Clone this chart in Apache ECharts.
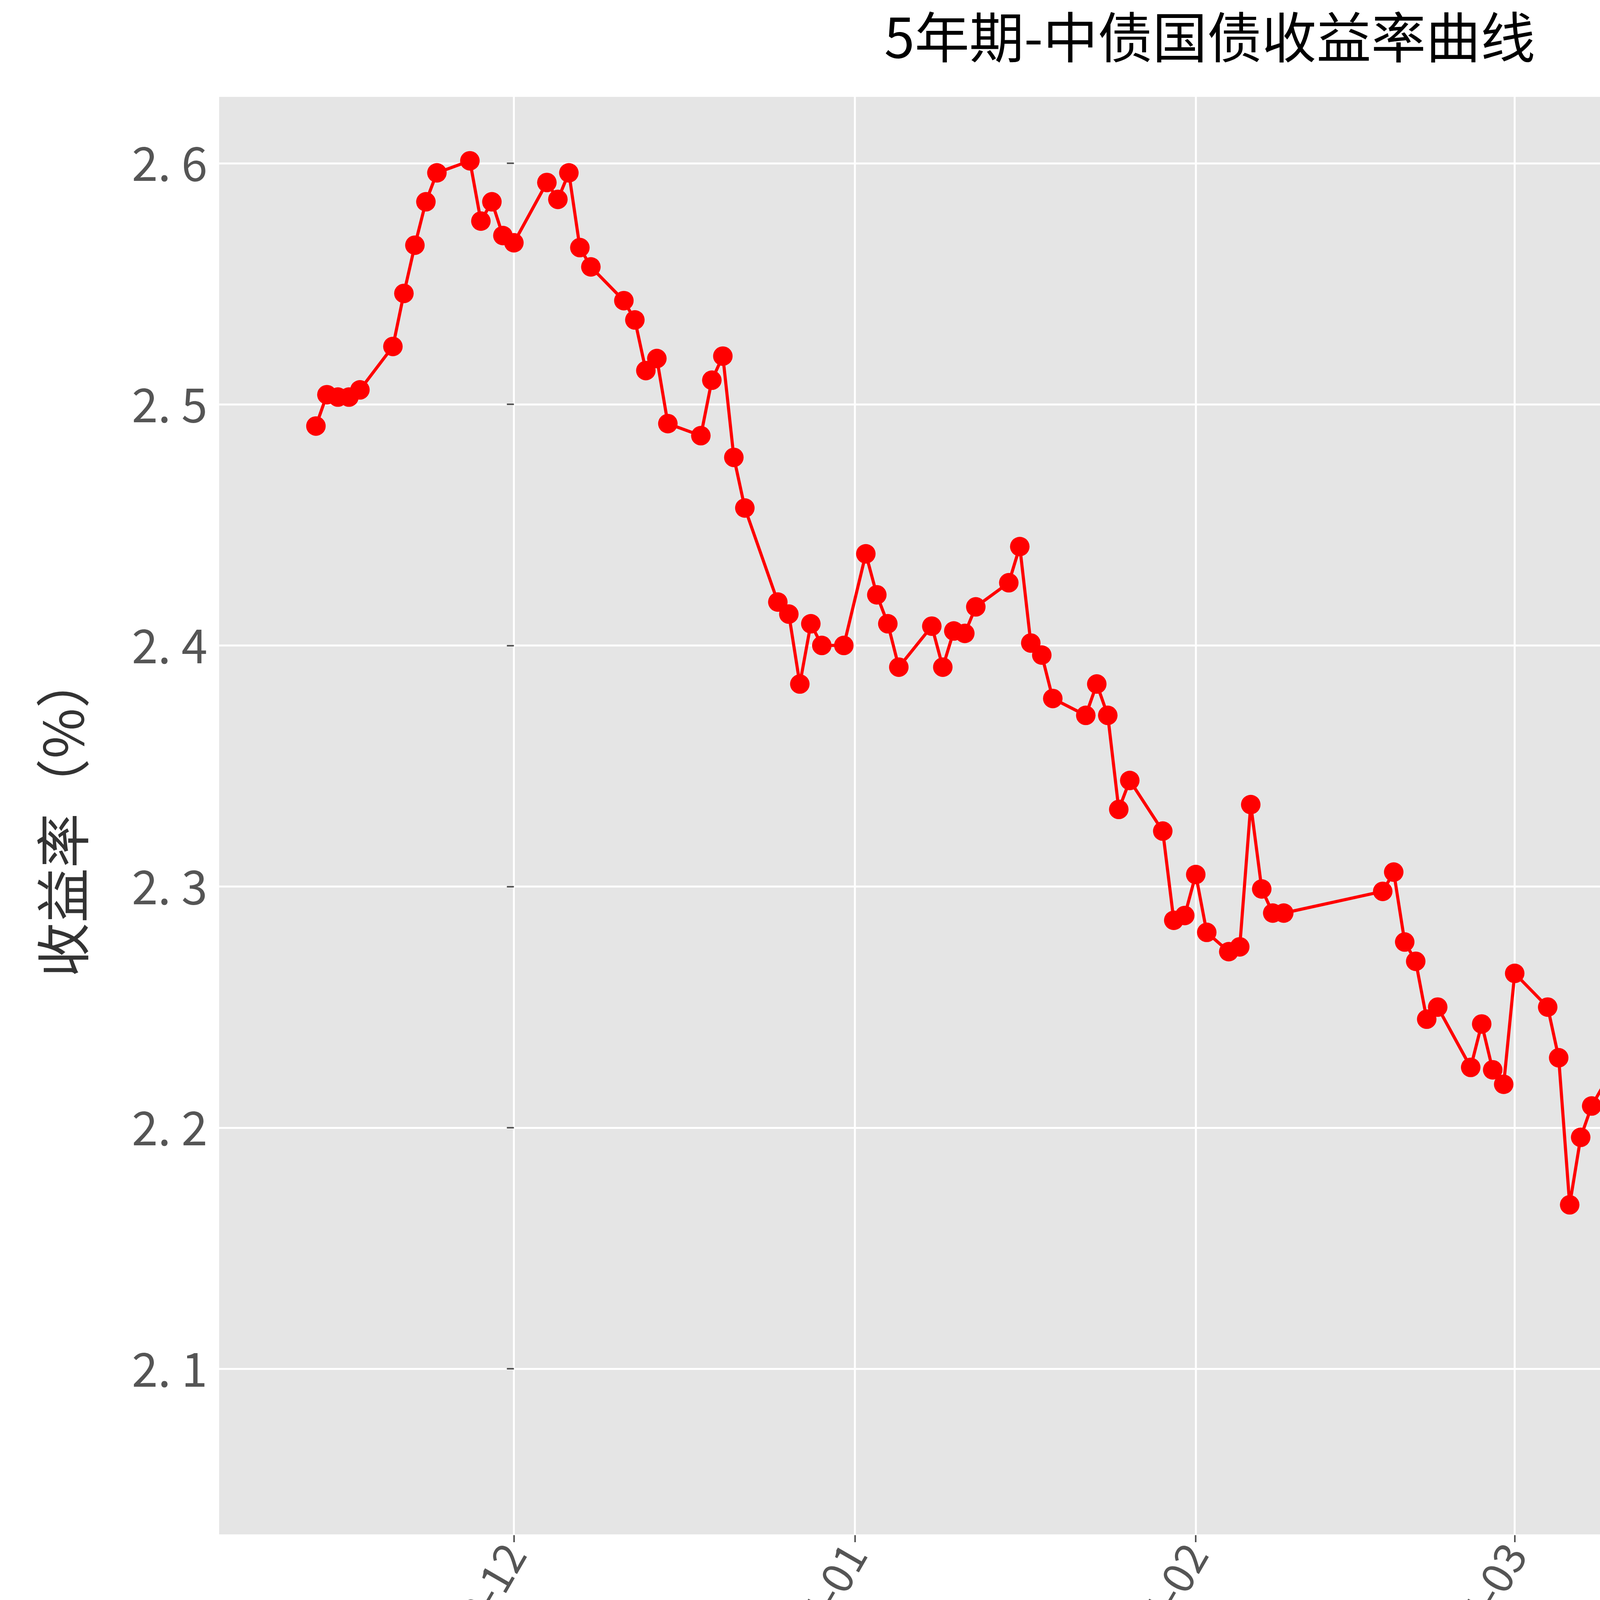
<!DOCTYPE html>
<html>
<head>
<meta charset="utf-8">
<script src="https://cdn.jsdelivr.net/npm/echarts@6/dist/echarts.min.js"></script>
<style>html,body{margin:0;padding:0;background:#fff}#chart{width:6194px;height:4573px}</style>
</head>
<body>
<div id="chart"></div>
<script>
const dates = [
  '2023-11-13','2023-11-14','2023-11-15','2023-11-16','2023-11-17','2023-11-20','2023-11-21','2023-11-22','2023-11-23','2023-11-24',
  '2023-11-27','2023-11-28','2023-11-29','2023-11-30','2023-12-01','2023-12-04','2023-12-05','2023-12-06','2023-12-07','2023-12-08',
  '2023-12-11','2023-12-12','2023-12-13','2023-12-14','2023-12-15','2023-12-18','2023-12-19','2023-12-20','2023-12-21','2023-12-22',
  '2023-12-25','2023-12-26','2023-12-27','2023-12-28','2023-12-29','2023-12-31','2024-01-02','2024-01-03','2024-01-04','2024-01-05',
  '2024-01-08','2024-01-09','2024-01-10','2024-01-11','2024-01-12','2024-01-15','2024-01-16','2024-01-17','2024-01-18','2024-01-19',
  '2024-01-22','2024-01-23','2024-01-24','2024-01-25','2024-01-26','2024-01-29','2024-01-30','2024-01-31','2024-02-01','2024-02-02',
  '2024-02-04','2024-02-05','2024-02-06','2024-02-07','2024-02-08','2024-02-09','2024-02-18','2024-02-19','2024-02-20','2024-02-21',
  '2024-02-22','2024-02-23','2024-02-26','2024-02-27','2024-02-28','2024-02-29','2024-03-01','2024-03-04','2024-03-05','2024-03-06',
  '2024-03-07','2024-03-08','2024-03-11','2024-03-12','2024-03-13','2024-03-14','2024-03-15','2024-03-18','2024-03-19','2024-03-20',
  '2024-03-21','2024-03-22','2024-03-25','2024-03-26','2024-03-27','2024-03-28','2024-03-29','2024-04-01','2024-04-02','2024-04-03',
  '2024-04-07','2024-04-08','2024-04-09','2024-04-10','2024-04-11','2024-04-12','2024-04-15','2024-04-16','2024-04-17','2024-04-18',
  '2024-04-19','2024-04-22','2024-04-23','2024-04-24','2024-04-25','2024-04-26','2024-04-28','2024-04-29','2024-04-30','2024-05-06',
  '2024-05-07','2024-05-08','2024-05-09','2024-05-10','2024-05-11'
];
const yields = [
  2.491,2.504,2.503,2.503,2.506,2.524,2.546,2.566,2.584,2.596,
  2.601,2.576,2.584,2.570,2.567,2.592,2.585,2.596,2.565,2.557,
  2.543,2.535,2.514,2.519,2.492,2.487,2.510,2.520,2.478,2.457,
  2.418,2.413,2.384,2.409,2.400,2.400,2.438,2.421,2.409,2.391,
  2.408,2.391,2.406,2.405,2.416,2.426,2.441,2.401,2.396,2.378,
  2.371,2.384,2.371,2.332,2.344,2.323,2.286,2.288,2.305,2.281,
  2.273,2.275,2.334,2.299,2.289,2.289,2.298,2.306,2.277,2.269,
  2.245,2.250,2.225,2.243,2.224,2.218,2.264,2.250,2.229,2.168,
  2.196,2.209,2.233,2.272,2.259,2.260,2.243,2.218,2.208,2.224,
  2.204,2.215,2.229,2.228,2.195,2.211,2.198,2.218,2.197,2.190,
  2.195,2.170,2.154,2.159,2.138,2.112,2.127,2.129,2.106,2.081,
  2.076,2.074,2.057,2.097,2.068,2.126,2.158,2.188,2.149,2.128,
  2.101,2.108,2.130,2.131,2.156
];
const monthTicks = ['2023-12-01','2024-01-01','2024-02-01','2024-03-01','2024-04-01','2024-05-01'];

const font = '"Noto Sans CJK SC", sans-serif';
// x as days since 2023-12-01 (UTC)
const DAY = 86400000;
const base = Date.UTC(2023, 11, 1);
const dayOf = s => (Date.parse(s + 'T00:00:00Z') - base) / DAY;
const monthValues = monthTicks.map(dayOf);
const monthLabel = {};
monthTicks.forEach(s => { monthLabel[dayOf(s)] = s.slice(0, 7); });

const chart = echarts.init(document.getElementById('chart'));
chart.setOption({
  backgroundColor: '#fff',
  animation: false,
  title: {
    text: '5年期-中债国债收益率曲线',
    left: 'center', top: 20,
    textStyle: { fontFamily: font, fontSize: 140, fontWeight: 'normal', color: '#000' }
  },
  grid: { left: 561, right: 64, top: 245, bottom: 643, backgroundColor: '#e5e5e5', show: true, borderWidth: 0 },
  xAxis: {
    type: 'value',
    min: -26.8, max: 171,
    axisLine: { show: false },
    axisTick: { show: true, length: 18, lineStyle: { color: '#555', width: 4 }, customValues: monthValues },
    axisLabel: {
      customValues: monthValues,
      rotate: 60, margin: 30, fontFamily: font, fontSize: 110, color: '#555',
      formatter: v => monthLabel[v] || ''
    },
    splitLine: { show: true, lineStyle: { color: '#fff', width: 5 } }
  },
  yAxis: {
    type: 'value',
    min: 2.031, max: 2.628,
    name: '收益率（%）', nameLocation: 'middle', nameGap: 330,
    nameTextStyle: { fontFamily: font, fontSize: 140, color: '#333' },
    axisLine: { show: false },
    axisTick: { show: true, length: 18, lineStyle: { color: '#555', width: 4 } },
    axisLabel: {
      showMinLabel: false, showMaxLabel: false, margin: 30,
      fontFamily: font, fontSize: 120, color: '#555',
      formatter: v => v.toFixed(1).split('').join(' ').replace(' . ', '. ')
    },
    splitLine: { show: true, lineStyle: { color: '#fff', width: 5 } }
  },
  graphic: [{
    type: 'rect', left: 6026, top: 290,
    shape: { width: 62, height: 58, r: 8 },
    style: { fill: '#e5e5e5', stroke: '#cccccc', lineWidth: 4 }
  }],
  series: [{
    type: 'line',
    data: dates.map((d, i) => [dayOf(d), yields[i]]),
    symbol: 'circle', symbolSize: 50,
    itemStyle: { color: '#ff0000' },
    lineStyle: { color: '#ff0000', width: 8 }
  }]
});
</script>
</body>
</html>
